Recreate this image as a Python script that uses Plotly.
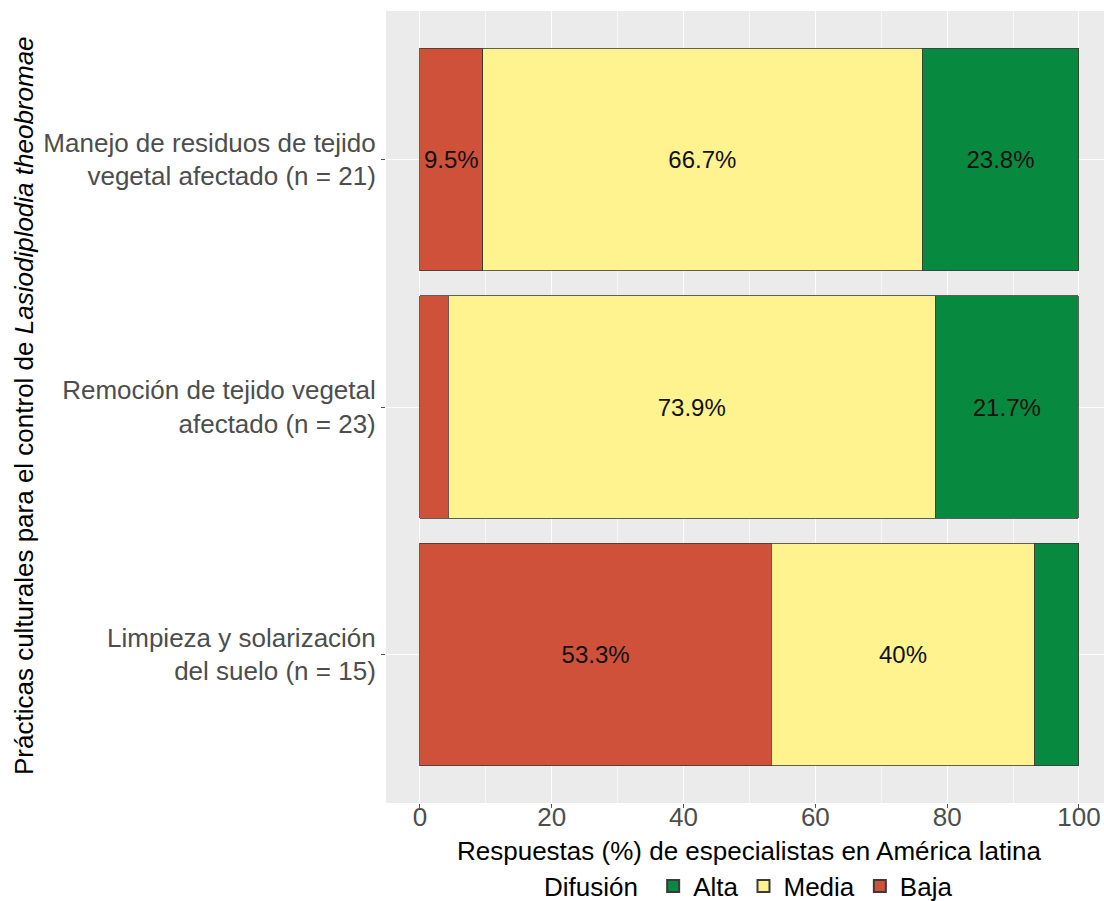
import plotly.graph_objects as go

categories = [
    "Limpieza y solarización<br>del suelo (n = 15)",
    "Remoción de tejido vegetal<br>afectado (n = 23)",
    "Manejo de residuos de tejido<br>vegetal afectado (n = 21)",
]
baja = [53.3, 4.3, 9.5]
media = [40.0, 73.9, 66.7]
alta = [6.7, 21.7, 23.8]
x_ticks = [0, 20, 40, 60, 80, 100]

series = [
    ("Baja", baja, "#CF513A"),
    ("Media", media, "#FFF38F"),
    ("Alta", alta, "#07893F"),
]

FONT = "Liberation Sans, Arial, sans-serif"

def lab(v):
    return f"{v:g}%" if v >= 8 else ""

fig = go.Figure()
for name, vals, col in series:
    fig.add_trace(go.Bar(
        y=categories, x=vals, name=name, orientation="h",
        marker=dict(color=col, line=dict(color="#3a3a3a", width=0.8)),
        text=[lab(v) for v in vals], textposition="inside",
        insidetextanchor="middle", constraintext="none",
        textfont=dict(color="#111111", size=24, family=FONT),
        hoverinfo="x+y+name",
    ))

L, R, T, B = 386, 0, 11, 98
W, H = 1104, 901
pw, ph = W - L - R, H - T - B

fig.update_layout(
    width=W, height=H, barmode="stack", bargap=0.1,
    margin=dict(l=L, r=R, t=T, b=B, autoexpand=False),
    plot_bgcolor="#EBEBEB", paper_bgcolor="white",
    font=dict(family=FONT, size=26, color="black"),
    xaxis=dict(
        range=[-5.15, 103.8], tickvals=x_ticks, showgrid=True,
        gridcolor="rgba(255,255,255,0.9)", gridwidth=1.2, zeroline=False,
        minor=dict(tickvals=[10, 30, 50, 70, 90], showgrid=True,
                   gridcolor="rgba(255,255,255,0.6)", gridwidth=0.6, ticks=""),
        ticks="outside", ticklen=4, tickcolor="#555", tickwidth=1,
        ticklabelstandoff=-13,
        tickfont=dict(size=26, color="#4D4D4D", family=FONT),
        showline=False, automargin=False,
    ),
    yaxis=dict(
        categoryorder="array", categoryarray=categories,
        range=[-0.6, 2.6], showgrid=True, gridcolor="rgba(255,255,255,0.9)",
        ticks="outside", ticklen=4, tickcolor="#555", tickwidth=1,
        tickfont=dict(size=26, color="#4D4D4D", family=FONT), showline=False,
        automargin=False,
    ),
    legend=dict(
        orientation="h", traceorder="reversed",
        title=dict(text="Difusión ", font=dict(size=26, color="black")),
        font=dict(size=26, color="black"),
        xref="container", yref="container",
        x=750 / W, xanchor="center",
        y=1 - 886 / H, yanchor="middle",
        itemwidth=30, itemsizing="constant",
    ),
    showlegend=True,
)

fig.add_annotation(
    text="Respuestas (%) de especialistas en América latina",
    xref="paper", yref="paper", x=(749 - L) / pw, y=(H - B - 851) / ph,
    xanchor="center", yanchor="middle", showarrow=False,
    font=dict(size=26, color="black"),
)
fig.add_annotation(
    text="Prácticas culturales para el control de <i>Lasiodiplodia theobromae</i>",
    xref="paper", yref="paper", x=(24 - L) / pw, y=(H - B - 405) / ph,
    xanchor="center", yanchor="middle", textangle=-90, showarrow=False,
    font=dict(size=26, color="black"),
)

fig.write_html("out.html", config={"displayModeBar": False},
               post_script="document.body.style.margin='0';")
